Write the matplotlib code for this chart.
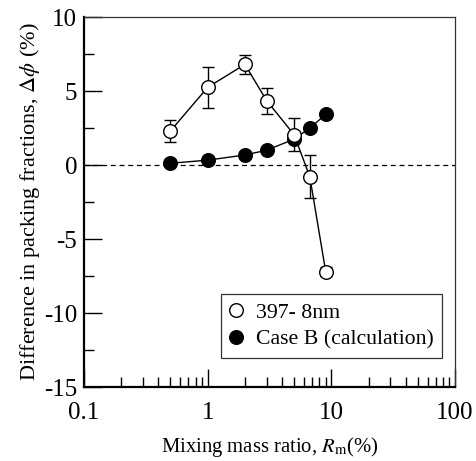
import numpy as np
import matplotlib
matplotlib.use('Agg')
import matplotlib.pyplot as plt
from matplotlib.ticker import LogLocator, MultipleLocator, FixedLocator, FixedFormatter, NullFormatter

plt.rcParams['font.family'] = ['Liberation Serif', 'DejaVu Serif']
plt.rcParams['mathtext.fontset'] = 'stix'

# datos medidos (397-8nm) y calculo (Case B)
rm_exp = [0.5, 1, 2, 3, 5, 6.7, 9]
dphi_exp = [2.3, 5.25, 6.8, 4.35, 2.05, -0.8, -7.2]
err_exp = [0.75, 1.4, 0.65, 0.87, 1.1, 1.45, 0.3]

rm_calc = [0.5, 1, 2, 3, 5, 6.7, 9]
dphi_calc = [0.12, 0.33, 0.68, 1.0, 1.75, 2.5, 3.42]

xticks = [0.1, 1, 10, 100]
xticklabels = ['0.1', '1', '10', '100']
yticks = [10, 5, 0, -5, -10, -15]

fig = plt.figure(figsize=(4.77, 4.61), dpi=100)
ax = fig.add_axes([0.176, 0.1605, 0.778, 0.8025])

ax.axhline(0, color='black', lw=0.9, ls=(0, (4, 3)), zorder=1)

ax.errorbar(rm_exp, dphi_exp, yerr=err_exp, fmt='none', ecolor='black',
            elinewidth=1.0, capsize=4.5, capthick=1.0, zorder=2)
ax.plot(rm_calc, dphi_calc, '-o', color='black', mfc='black', mec='black',
        ms=9.8, lw=1.0, zorder=3, label='Case B (calculation)')
ax.plot(rm_exp, dphi_exp, '-o', color='black', mfc='white', mec='black',
        ms=9.8, mew=1.0, lw=1.0, zorder=4, label='397- 8nm')

ax.set_xscale('log')
ax.set_xlim(0.1, 100)
ax.set_ylim(-15, 10)

ax.xaxis.set_major_locator(FixedLocator(xticks))
ax.xaxis.set_major_formatter(FixedFormatter(xticklabels))
ax.xaxis.set_minor_locator(LogLocator(base=10, subs=np.arange(2, 10)))
ax.xaxis.set_minor_formatter(NullFormatter())
ax.set_yticks(yticks)
ax.set_yticklabels([str(v) for v in yticks])
ax.yaxis.set_minor_locator(MultipleLocator(2.5))

ax.tick_params(which='both', direction='in', top=False, right=False, labelsize=18, width=1.0)
ax.tick_params(which='major', length=13, pad=5)
ax.tick_params(which='minor', length=7)
ax.tick_params(axis='x', which='major', pad=11)

for s in ['left', 'bottom']:
    ax.spines[s].set_linewidth(1.6)
for s in ['top', 'right']:
    ax.spines[s].set_linewidth(0.9)
    ax.spines[s].set_color('#333333')

ax.set_xlabel('Mixing mass ratio, $R_\\mathrm{m}$(%)', fontsize=14.9, labelpad=8)
ax.set_ylabel('Difference in packing fractions, $\\Delta\\phi$ (%)', fontsize=16, labelpad=1)

h, l = ax.get_legend_handles_labels()
leg = ax.legend(h[::-1], l[::-1], loc='lower right', bbox_to_anchor=(0.965, 0.078),
                borderaxespad=0, fontsize=15.7, frameon=True, fancybox=False,
                edgecolor='black', handlelength=0.6, handletextpad=0.6,
                borderpad=0.4, labelspacing=0.3)
leg.get_frame().set_linewidth(0.9)
for hd in leg.legend_handles:
    hd.set_linestyle('none')

fig.savefig('out.png', dpi=100)
